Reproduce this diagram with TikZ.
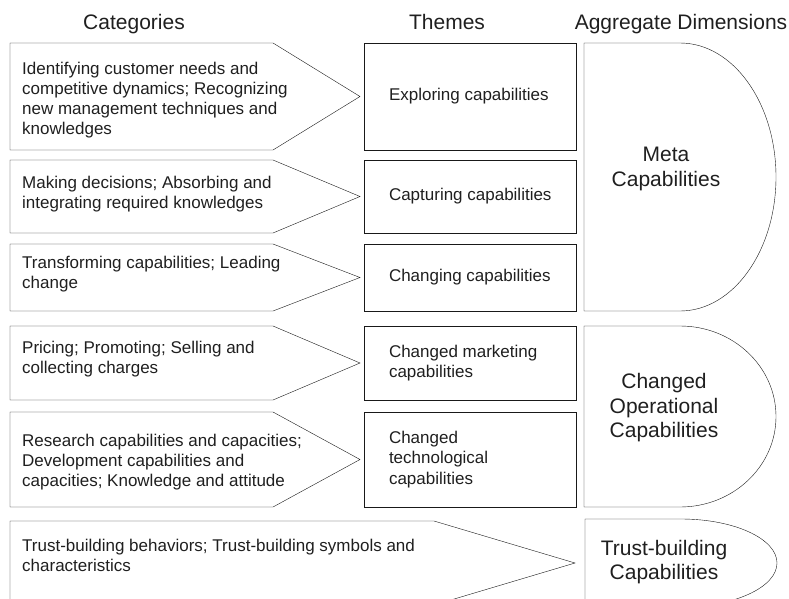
\documentclass[tikz,border=0pt]{standalone}
\usepackage{fontspec}
\setmainfont{Liberation Sans}
\usetikzlibrary{positioning}
\tikzset{
x=1pt, y=-1pt, % pixel-like units, y running down the page
line width=1pt, % thin outlines everywhere
every node/.style={inner sep=0pt, text=black!88}, % text sits right on its anchor
}

\begin{document}
\begin{tikzpicture}[line join=miter,outline/.style={draw=black!90},head/.style={font=\fontsize{21}{25}\selectfont},cat/.style={align=left,font=\fontsize{17}{20.3}\selectfont},theme/.style={outline,rectangle,minimum width=212pt},dim/.style={align=center,font=\fontsize{21}{24.5}\selectfont}]
\useasboundingbox (0,0) rectangle (789,599);
\clip (0,0) rectangle (789,599);

% column heads
\node[head, anchor=base] (hcat) at (134,29.5) {Categories};
\node[head, anchor=base] (htheme) at (447,29.5) {Themes};
\node[head, anchor=base] (hdim) at (681,29.5) {Aggregate Dimensions};

% categories, pointing at their themes
\draw[outline] (10,43) -- (273,43) -- (360,96.5) -- (273,150) -- (10,150) -- cycle;
\draw[outline] (10,160) -- (273,160) -- (360,196.5) -- (273,233) -- (10,233) -- cycle;
\draw[outline] (10,244) -- (273,244) -- (360,277.5) -- (273,311) -- (10,311) -- cycle;
\draw[outline] (10,326) -- (273,326) -- (360,363) -- (273,400) -- (10,400) -- cycle;
\draw[outline] (10,412) -- (273,412) -- (360,459.5) -- (273,507) -- (10,507) -- cycle;
\draw[outline] (10,521) -- (434,521) -- (575,563) -- (434,605) -- (10,605) -- cycle;

% base is the last line's baseline
\node[cat, anchor=base west] (c1) at (22,134.9) {Identifying customer needs and\\competitive dynamics; Recognizing\\new management techniques and\\knowledges};
\node[cat, anchor=base west] (c2) at (22,208.3) {Making decisions; Absorbing and\\integrating required knowledges};
\node[cat, anchor=base west] (c3) at (22,288.3) {Transforming capabilities; Leading\\change};
\node[cat, anchor=base west] (c4) at (22,373.3) {Pricing; Promoting; Selling and\\collecting charges};
\node[cat, anchor=base west] (c5) at (22,486.6) {Research capabilities and capacities;\\Development capabilities and\\capacities; Knowledge and attitude};
\node[cat, anchor=base west] (c6) at (22,571.3) {Trust-building behaviors; Trust-building symbols and\\characteristics};

% themes
\node[theme, minimum height=107pt] (t1) at (470,96.5) {};
\node[theme, minimum height=73pt] (t2) at (470,196.5) {};
\node[theme, minimum height=67pt] (t3) at (470,277.5) {};
\node[theme, minimum height=74pt] (t4) at (470,363) {};
\node[theme, minimum height=95pt] (t5) at (470,459.5) {};

\node[cat, right=25pt of t1.west] (t1text) {Exploring capabilities};
\node[cat, right=25pt of t2.west] (t2text) {Capturing capabilities};
\node[cat, right=25pt of t3.west] (t3text) {Changing capabilities};
\node[cat, right=25pt of t4.west] (t4text) {Changed marketing\\capabilities};
\node[cat, right=25pt of t5.west] (t5text) {Changed\\technological\\capabilities};

% aggregate dimensions, flat left side and a half-ellipse on the right
\draw[outline] (584,43) -- (680,43) arc[start angle=-90, end angle=90, x radius=96, y radius=134] -- (584,311) -- cycle;
\draw[outline] (584,326) -- (680,326) arc[start angle=-90, end angle=90, x radius=96, y radius=90.5] -- (584,507) -- cycle;
\draw[outline] (585,519) -- (681,519) arc[start angle=-90, end angle=90, x radius=96, y radius=44] -- (585,607) -- cycle;

\node[dim] (meta) at (666,169) {Meta\\Capabilities};
\node[dim] (oper) at (664,408) {Changed\\Operational\\Capabilities};
\node[dim] (trust) at (664,562) {Trust-building\\Capabilities};
\end{tikzpicture}
\end{document}
